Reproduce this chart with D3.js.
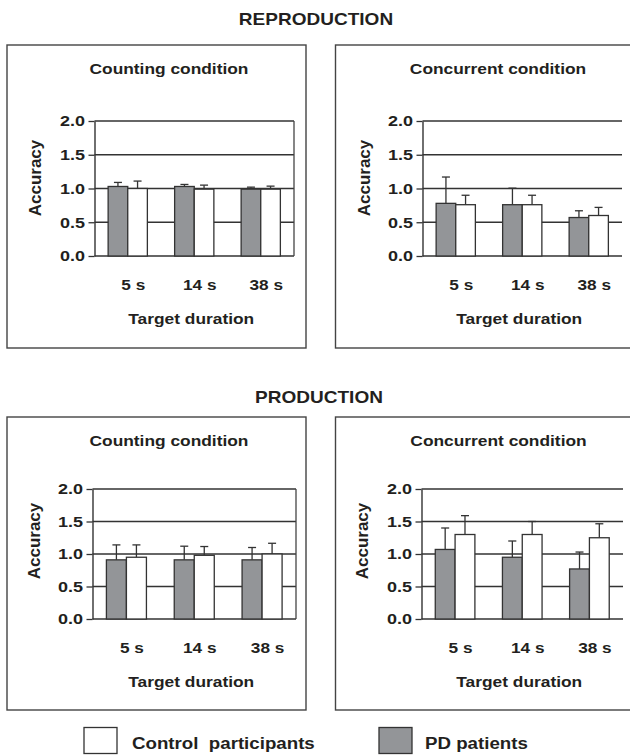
<!DOCTYPE html>
<html>
<head>
<meta charset="utf-8">
<script src="https://d3js.org/d3.v7.min.js"></script>
<style>
  body { margin: 0; background: #fff; }
  svg { display: block; font-family: "Liberation Sans", Arial, sans-serif; font-weight: bold; }
  text { fill: #231f20; }
</style>
</head>
<body>
<svg width="630" height="756"></svg>
<script>
var svg = d3.select("svg");

// categories
var durations = ["5 s", "14 s", "38 s"];
var groups = ["PD patients", "Control participants"];
var yTicks = [0, 0.5, 1.0, 1.5, 2.0];

// mean accuracy and error (upper whisker length)
var reproCountPD = [1.03, 1.03, 0.99],   reproCountPDErr = [0.06, 0.03, 0.03];
var reproCountCtrl = [1.00, 0.99, 0.99], reproCountCtrlErr = [0.11, 0.06, 0.045];
var reproConcPD = [0.78, 0.76, 0.57],    reproConcPDErr = [0.39, 0.245, 0.10];
var reproConcCtrl = [0.76, 0.76, 0.60],  reproConcCtrlErr = [0.14, 0.14, 0.12];
var prodCountPD = [0.91, 0.91, 0.91],    prodCountPDErr = [0.23, 0.21, 0.19];
var prodCountCtrl = [0.95, 0.98, 1.00],  prodCountCtrlErr = [0.19, 0.135, 0.165];
var prodConcPD = [1.07, 0.95, 0.77],     prodConcPDErr = [0.33, 0.25, 0.26];
var prodConcCtrl = [1.30, 1.30, 1.25],   prodConcCtrlErr = [0.29, 0.20, 0.215];

var fillFor = { "PD patients": "#939598", "Control participants": "#ffffff" };

// panel layout
var panels = [
  { title: "Counting condition", pd: reproCountPD, pdErr: reproCountPDErr, ctrl: reproCountCtrl, ctrlErr: reproCountCtrlErr,
    box: [7, 45, 299, 303], plot: [94.5, 294, 121, 256], titleX: 169, titleY: 74, accX: 41, accY: 178, xlabY: 290, tdY: 324, right: true },
  { title: "Concurrent condition", pd: reproConcPD, pdErr: reproConcPDErr, ctrl: reproConcCtrl, ctrlErr: reproConcCtrlErr,
    box: [335.5, 45, 310, 303], plot: [422.5, 622, 121, 256], titleX: 498, titleY: 74, accX: 369.5, accY: 178, xlabY: 290, tdY: 324, right: false },
  { title: "Counting condition", pd: prodCountPD, pdErr: prodCountPDErr, ctrl: prodCountCtrl, ctrlErr: prodCountCtrlErr,
    box: [7, 417, 299, 293], plot: [92.5, 296, 489, 619], titleX: 169, titleY: 446, accX: 40, accY: 541, xlabY: 653, tdY: 687, right: true },
  { title: "Concurrent condition", pd: prodConcPD, pdErr: prodConcPDErr, ctrl: prodConcCtrl, ctrlErr: prodConcCtrlErr,
    box: [335.5, 417, 310, 293], plot: [421.5, 623, 489, 619], titleX: 498.5, titleY: 446, accX: 368, accY: 541, xlabY: 653, tdY: 687, right: false }
];

function label(g, x, y, txt, size, sx, anchor) {
  return g.append("text")
    .attr("transform", "translate(" + x + "," + y + ") scale(" + sx + ",1)")
    .attr("text-anchor", anchor || "middle")
    .style("font-size", size + "px")
    .text(txt);
}

// section headings
label(svg, 316, 25, "REPRODUCTION", 17, 1.12);
label(svg, 319, 403, "PRODUCTION", 17, 1.12);

panels.forEach(function(p) {
  var g = svg.append("g");

  g.append("rect")
    .attr("x", p.box[0]).attr("y", p.box[1])
    .attr("width", p.box[2]).attr("height", p.box[3])
    .attr("fill", "none").attr("stroke", "#444").attr("stroke-width", 1.4);

  var x = d3.scaleBand().domain(durations)
    .range([p.plot[0], p.plot[1]])
    .paddingInner(0.41).paddingOuter(0.205);
  var xs = d3.scaleBand().domain(groups).range([0, x.bandwidth()]);
  var y = d3.scaleLinear().domain([0, 2]).range([p.plot[3], p.plot[2]]);

  // grid lines behind the bars
  g.append("g").selectAll("line")
    .data(yTicks)
    .enter().append("line")
    .attr("x1", p.plot[0]).attr("x2", p.plot[1])
    .attr("y1", function(d) { return y(d); })
    .attr("y2", function(d) { return y(d); })
    .attr("stroke", "#333").attr("stroke-width", 1.3);

  if (p.right) {
    g.append("line")
      .attr("x1", p.plot[1]).attr("x2", p.plot[1])
      .attr("y1", y(2)).attr("y2", y(0))
      .attr("stroke", "#444").attr("stroke-width", 1.3);
  }

  var rows = [];
  durations.forEach(function(dur, i) {
    rows.push({ dur: dur, grp: groups[0], v: p.pd[i], e: p.pdErr[i] });
    rows.push({ dur: dur, grp: groups[1], v: p.ctrl[i], e: p.ctrlErr[i] });
  });

  // error bars (upper whisker) drawn first so the bar outline sits on top
  var eb = g.append("g").attr("stroke", "#333").attr("stroke-width", 1.3);
  eb.selectAll(".stem")
    .data(rows).enter().append("line")
    .attr("x1", function(d) { return x(d.dur) + xs(d.grp) + xs.bandwidth() / 2; })
    .attr("x2", function(d) { return x(d.dur) + xs(d.grp) + xs.bandwidth() / 2; })
    .attr("y1", function(d) { return y(d.v); })
    .attr("y2", function(d) { return y(d.v + d.e); });
  eb.selectAll(".cap")
    .data(rows).enter().append("line")
    .attr("x1", function(d) { return x(d.dur) + xs(d.grp) + xs.bandwidth() / 2 - 4; })
    .attr("x2", function(d) { return x(d.dur) + xs(d.grp) + xs.bandwidth() / 2 + 4; })
    .attr("y1", function(d) { return y(d.v + d.e); })
    .attr("y2", function(d) { return y(d.v + d.e); });

  g.append("g").selectAll("rect")
    .data(rows).enter().append("rect")
    .attr("x", function(d) { return x(d.dur) + xs(d.grp); })
    .attr("y", function(d) { return y(d.v); })
    .attr("width", xs.bandwidth())
    .attr("height", function(d) { return y(0) - y(d.v); })
    .attr("fill", function(d) { return fillFor[d.grp]; })
    .attr("stroke", "#333").attr("stroke-width", 1.3);

  var yAxis = g.append("g")
    .attr("transform", "translate(" + p.plot[0] + ",0)")
    .call(d3.axisLeft(y).tickValues(yTicks).tickFormat(d3.format(".1f"))
      .tickSize(6).tickSizeOuter(0).tickPadding(2));
  yAxis.select(".domain").attr("stroke", "#333").attr("stroke-width", 1.4);
  yAxis.selectAll(".tick line").attr("stroke", "#333").attr("stroke-width", 1.3);
  yAxis.selectAll(".tick text")
    .attr("transform", "scale(1.2,1)")
    .style("font-size", "15px").style("font-family", "Liberation Sans, Arial, sans-serif")
    .attr("fill", "#231f20");

  // category labels, slightly right of the group centre as in the original
  durations.forEach(function(dur) {
    label(g, x(dur) + x.bandwidth() / 2 + 5.5, p.xlabY, dur, 15, 1.15);
  });

  label(g, p.titleX, p.titleY, p.title, 15.5, 1.12);
  label(g, (p.plot[0] + p.plot[1]) / 2 - 3, p.tdY, "Target duration", 15.5, 1.12);

  g.append("text")
    .attr("transform", "translate(" + p.accX + "," + p.accY + ") rotate(-90)")
    .attr("text-anchor", "middle")
    .style("font-size", "17px")
    .text("Accuracy");
});

// legend
var legend = svg.append("g");
var legendItems = [
  { grp: "Control participants", text: "Control\u00a0\u00a0participants", bx: 84, tx: 132 },
  { grp: "PD patients", text: "PD patients", bx: 379, tx: 425 }
];
legendItems.forEach(function(d) {
  legend.append("rect")
    .attr("x", d.bx).attr("y", 727.5)
    .attr("width", 33).attr("height", 26)
    .attr("fill", fillFor[d.grp]).attr("stroke", "#333").attr("stroke-width", 1.3);
  label(legend, d.tx, 749, d.text, 17, 1.1, "start");
});
</script>
</body>
</html>
